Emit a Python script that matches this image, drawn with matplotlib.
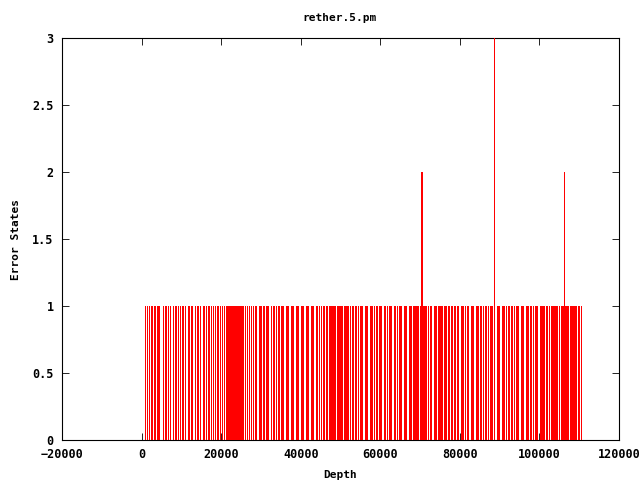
import matplotlib
matplotlib.use("Agg")
import matplotlib.pyplot as plt

title = "rether.5.pm"

# depths that hold one error state
depth_one = [
    900, 1300, 1800, 2300, 2700, 3100, 3400, 3800, 4100, 4500, 5300, 5800,
    6200, 6600, 7100, 7800, 8300, 8700, 9200, 9700, 10200, 10500, 11000,
    11600, 12000, 12400, 12800, 13500, 13900, 14200, 14700, 15400, 15700,
    16100, 16600, 17000, 17400, 18000, 18500, 18900, 19300, 19800, 20300,
    20600, 20800, 21100, 21300, 21500, 21700, 22000, 22300, 22500, 22800,
    23000, 23300, 23500, 23800, 24000, 24300, 24500, 24800, 25000, 25300,
    25500, 26100, 26600, 27000, 27400, 28100, 28400, 28700, 29400, 29700,
    30000, 30400, 30700, 31300, 31600, 31900, 32600, 33100, 33400, 33800,
    34200, 34500, 35000, 35300, 35600, 36300, 36600, 36900, 37500, 37800,
    38100, 38800, 39100, 39400, 40000, 40300, 40700, 41300, 41600, 41900,
    42600, 42900, 43200, 43900, 44200, 44500, 45200, 45500, 45800, 46400,
    46700, 47000, 47300, 47600, 47900, 48100, 48400, 48700, 49000, 49300,
    49600, 49900, 50200, 50500, 50800, 51100, 51400, 51700, 52000, 52400,
    52800, 53100, 53600, 54000, 54300, 54900, 55200, 55500, 56100, 56400,
    56700, 57300, 57600, 57900, 58500, 58800, 59100, 59700, 60000, 60300,
    60900, 61200, 61600, 62200, 62500, 62800, 63400, 63700, 64100, 64600,
    65000, 65300, 65900, 66200, 66500, 67100, 67500, 67800, 68100, 68400,
    68700, 69000, 69300, 69600, 69900, 70100, 70800, 71000, 71300, 71600,
    71900, 72100, 72500, 72800, 73400, 73700, 74000, 74400, 74700, 75000,
    75300, 75600, 75900, 76200, 76600, 77000, 77300, 77700, 78100, 78500,
    78800, 79200, 79500, 80200, 80500, 80800, 81400, 81700, 82000, 82700,
    83000, 83300, 84000, 84300, 84500, 85100, 85400, 85700, 86300, 86600,
    87000, 87600, 87900, 88200, 88500, 89300, 89600, 89900, 90500, 90800,
    91100, 91700, 92000, 92300, 92900, 93200, 93500, 94100, 94400, 94700,
    95300, 95600, 95900, 96500, 96800, 97100, 97700, 98000, 98300, 98900,
    99200, 99500, 100100, 100400, 100700, 101000, 101200, 101600, 101800,
    102000, 102300, 102500, 102900, 103100, 103300, 103600, 103800, 104000,
    104200, 104500, 104800, 105000, 105300, 105600, 105900, 106100, 106500,
    106800, 107000, 107300, 107600, 107900, 108200, 108500, 108800, 109000,
    109200, 109600, 110000, 110400,
]

# the few depths with more than one error state
peak_depths = [70300, 70550, 88650, 106250]
peak_states = [2, 2, 3, 2]

plt.rcParams['font.family'] = ['DejaVu Sans Mono']
plt.rcParams['font.weight'] = 'bold'
plt.rcParams['font.size'] = 8

fig = plt.figure(figsize=(6.4, 4.8), dpi=100)
ax = fig.add_axes([62 / 640, 40 / 480, 557 / 640, 402 / 480])

ax.vlines(depth_one, 0, [1] * len(depth_one), color='red', lw=0.5,
          antialiased=False)
ax.vlines(peak_depths, 0, peak_states, color='#ff0000', lw=0.6,
          antialiased=False, zorder=3)

ax.set_xlim(-20000, 120000)
ax.set_ylim(0, 3)
ax.set_xticks(range(-20000, 120001, 20000))
ax.set_yticks([0, 0.5, 1, 1.5, 2, 2.5, 3])
ax.set_yticklabels(["0", "0.5", "1", "1.5", "2", "2.5", "3"])
ax.tick_params(direction='in', top=True, right=True, length=5, width=0.6,
               labelsize=8.5, pad=6)
for s in ax.spines.values():
    s.set_linewidth(0.8)
    s.set_zorder(1)

ax.set_xlabel("Depth", fontweight='bold', labelpad=6)
ax.set_ylabel("Error States", fontweight='bold', labelpad=8)
fig.text(0.53, 1 - 18 / 480, title, ha='center', va='center',
         fontweight='bold', fontsize=8)

fig.savefig("out.png", dpi=100)
